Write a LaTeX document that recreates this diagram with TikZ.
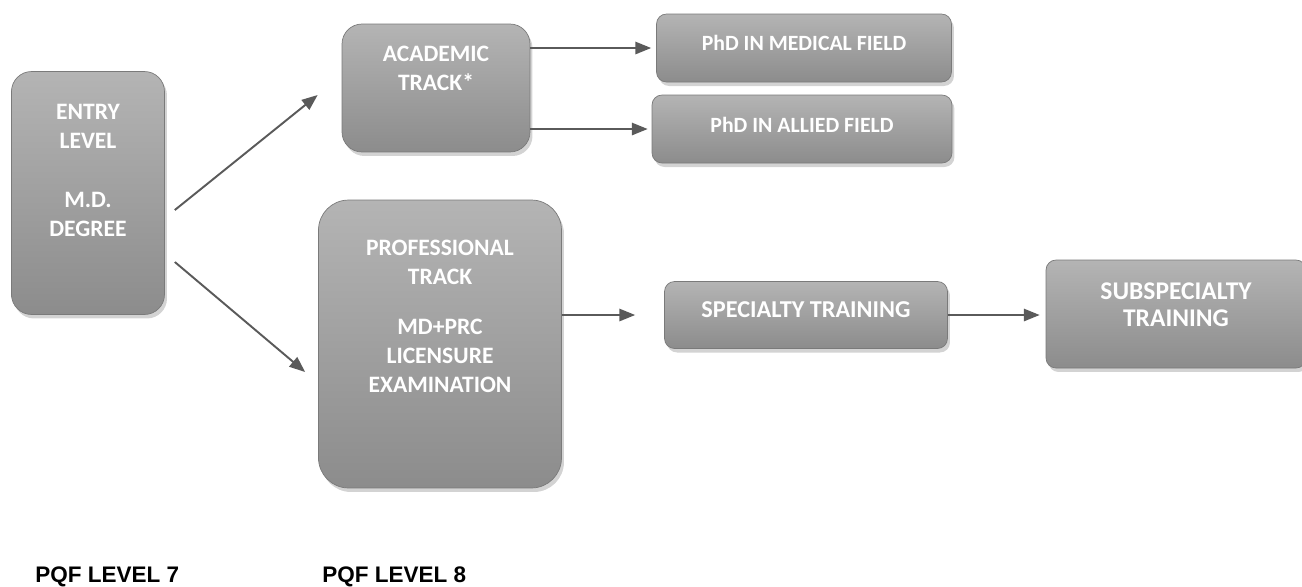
\documentclass[tikz,border=0pt]{standalone}
\usepackage{fontspec}
\setmainfont{Carlito}
\newfontfamily\pqffont{Liberation Sans}
\usetikzlibrary{arrows.meta,positioning,calc,shadows}
\definecolor{boxtop}{HTML}{B4B4B4}
\definecolor{boxbot}{HTML}{8C8C8C}
\definecolor{boxline}{HTML}{7A7A7A}
\definecolor{arrowc}{HTML}{5A5A5A}

\begin{document}
\begin{tikzpicture}[x=0.02cm,y=-0.02cm,>={Triangle[length=9pt,width=7pt]},
  box/.style={rounded corners=4mm,draw=boxline,top color=boxtop,bottom color=boxbot,drop shadow={opacity=.35,shadow xshift=.5mm,shadow yshift=-.8mm}},
  flatbox/.style={box,rounded corners=2mm},
  boxtext/.style={text=white,font=\fontsize{13.4}{16.5}\selectfont\bfseries,align=center,inner sep=0pt},
  arr/.style={->,draw=arrowc,fill=arrowc,line width=1.1pt},
  every node/.style={inner sep=0pt}]
\useasboundingbox (0,0) rectangle (1302,586);
\node[box,minimum width=3.06cm,minimum height=4.86cm] (entry) at (88,193) {};
\node[box,minimum width=3.76cm,minimum height=2.56cm] (academic) at (436,88) {};
\node[flatbox,minimum width=5.9cm,minimum height=1.36cm] (phdmed) at (804,48) {};
\node[flatbox,minimum width=6.0cm,minimum height=1.36cm] (phdallied) at (802,129) {};
\node[box,rounded corners=6mm,minimum width=4.86cm,minimum height=5.76cm] (professional) at (440,344) {};
\node[flatbox,minimum width=5.66cm,minimum height=1.34cm] (specialty) at (806,315) {};
\node[flatbox,minimum width=5.2cm,minimum height=2.16cm] (subspecialty) at (1176,314) {};
% texts
\node[boxtext,below=0.66cm of entry.north] (entry-t) {ENTRY\\LEVEL\\[17pt]M.D.\\DEGREE};
\node[boxtext,below=0.44cm of academic.north] (academic-t) {ACADEMIC\\TRACK*};
\node[boxtext,font=\fontsize{12.4}{15}\selectfont\bfseries] (phdmed-t) at ($(phdmed)+(0,-5)$) {PhD IN MEDICAL FIELD};
\node[boxtext,font=\fontsize{12.4}{15}\selectfont\bfseries] (phdallied-t) at ($(phdallied)+(0,-4)$) {PhD IN ALLIED FIELD};
\node[boxtext,below=0.8cm of professional.north] (professional-t) {PROFESSIONAL\\TRACK\\[12pt]MD+PRC\\LICENSURE\\EXAMINATION};
\node[boxtext,font=\fontsize{13.8}{16}\selectfont\bfseries] (specialty-t) at ($(specialty)+(0,-5)$) {SPECIALTY TRAINING};
\node[boxtext,font=\fontsize{14.5}{15.5}\selectfont\bfseries,below=0.46cm of subspecialty.north] (subspecialty-t) {SUBSPECIALTY\\TRAINING};
% level captions
\node[anchor=base west,font=\pqffont\fontsize{12.8}{16}\selectfont\bfseries] (pqf7) at (35,582) {PQF LEVEL 7};
\node[anchor=base west,font=\pqffont\fontsize{12.8}{16}\selectfont\bfseries] (pqf8) at (322,582) {PQF LEVEL 8};
% connectors
\coordinate (e-up) at ($(entry.east)+(10,17)$);
\coordinate (e-dn) at ($(entry.east)+(10,69)$);
\draw[arr] (e-up) -- ($(academic.west)+(-24,7)$);
\draw[arr] (e-dn) -- ($(professional.west)+(-13,28)$);
\draw[arr] (academic.east |- phdmed) -- ([xshift=-1mm]phdmed.west);
\draw[arr] (academic.east |- phdallied) -- ([xshift=-0.8mm]phdallied.west);
\draw[arr] (professional.east |- specialty) -- ([xshift=-5.8mm]specialty.west);
\draw[arr] (specialty) -- ([xshift=-1.2mm]subspecialty.west |- specialty);
\end{tikzpicture}
\end{document}
